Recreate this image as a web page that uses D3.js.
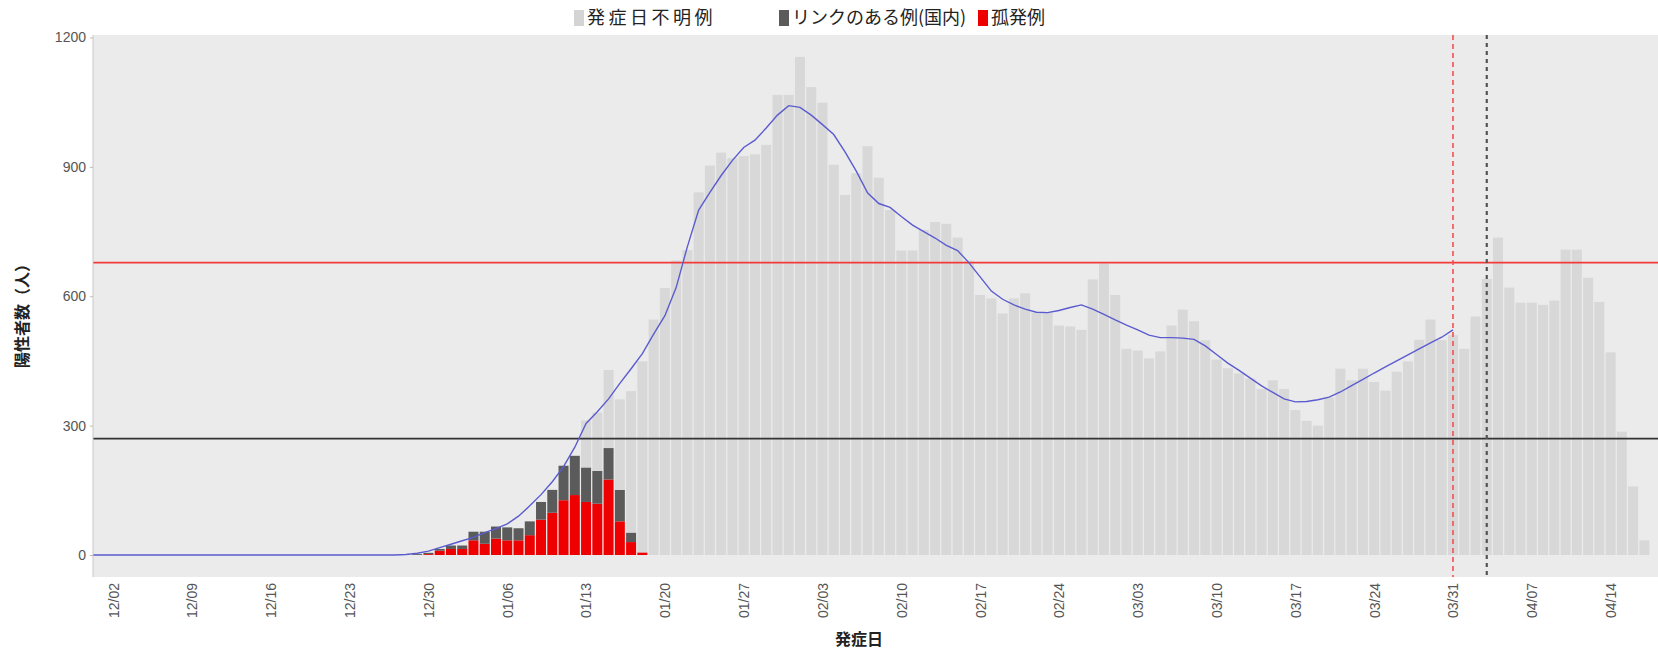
<!DOCTYPE html>
<html><head><meta charset="utf-8">
<script src="https://cdn.jsdelivr.net/npm/d3@7"></script>
<style>body{margin:0;background:#fff}svg{display:block}</style>
</head><body>
<svg id="chart" width="1658" height="649"></svg>
<script>
// ---- data (one entry per day from 2020-11-30) ----
const firstDay = "2020-11-30";
const isolated = [ // 孤発例 (red)
0,0,0,0,0,0,0,0,0,0, 0,0,0,0,0,0,0,0,0,0, 0,0,0,0,0,0,0,0,0,0,
2,10,14,14,34,26,38,34,34,46,82,98,127,139,123,119,175,78,30,6,
0,0,0,0,0,0,0,0,0,0, 0,0,0,0,0,0,0,0,0,0, 0,0,0,0,0,0,0,0,0,0,
0,0,0,0,0,0,0,0,0,0, 0,0,0,0,0,0,0,0,0,0, 0,0,0,0,0,0,0,0,0,0,
0,0,0,0,0,0,0,0,0,0, 0,0,0,0,0,0,0,0,0,0, 0,0,0,0,0,0,0,0,0];
const linked = [ // リンクのある例（国内） (dark grey)
0,0,0,0,0,0,0,0,0,0, 0,0,0,0,0,0,0,0,0,0, 0,0,0,0,0,0,0,0,0,
2,3,4,8,8,20,28,28,30,28,32,41,53,80,91,80,76,73,73,22,0,
0,0,0,0,0,0,0,0,0,0, 0,0,0,0,0,0,0,0,0,0, 0,0,0,0,0,0,0,0,0,0,
0,0,0,0,0,0,0,0,0,0, 0,0,0,0,0,0,0,0,0,0, 0,0,0,0,0,0,0,0,0,0,
0,0,0,0,0,0,0,0,0,0, 0,0,0,0,0,0,0,0,0,0, 0,0,0,0,0,0,0,0,0];
const unknown = [ // 発症日不明例 (light grey)
0,0,0,0,0,0,0,0,0,0, 0,0,0,0,0,0,0,0,0,0, 0,0,0,0,0,0,0,0,0,0,
0,0,0,0,0,0,0,0,0,0, 0,0,0,0,
109,135,181,210,328,443,546,619,683,707,
841,903,933,920,925,929,951,1067,1067,1155,
1085,1049,905,835,885,948,875,800,706,706,
754,772,768,736,683,603,595,560,595,607,
562,562,532,530,522,639,676,603,478,474,
456,472,532,569,542,498,453,433,421,409,
385,405,385,336,311,300,365,432,405,432,
401,381,425,449,499,546,498,510,478,553,
640,736,620,585,585,580,590,708,708,643,
587,470,286,159,34];
const movingAvg = [ // blue line, from 2020-11-30 to 2021-03-31
0,0,0,0,0,0,0,0,0,0, 0,0,0,0,0,0,0,0,0,0, 0,0,0,0,0,0,0,0,
1,4,9,17,25,33,41,52,61,72,
90,114,140,170,205,250,305,332,362,398,
432,467,512,555,620,715,800,841,880,915,
945,962,990,1020,1042,1038,1020,998,975,935,
890,840,815,806,785,765,750,735,718,706,
678,645,612,593,580,570,563,562,567,574,
580,570,558,545,533,522,510,504,504,503,
500,485,465,445,428,410,392,377,362,355,
356,360,366,378,393,407,422,436,450,464,
478,492,505,522];
const tickLabels = ["2020-12-02","2020-12-09","2020-12-16","2020-12-23","2020-12-30","2021-01-06","2021-01-13","2021-01-20","2021-01-27","2021-02-03","2021-02-10","2021-02-17","2021-02-24","2021-03-03","2021-03-10","2021-03-17","2021-03-24","2021-03-31","2021-04-07","2021-04-14"];
const yTicks = [0,300,600,900,1200];
const redThreshold = 678, blackThreshold = 270;
const redDashDate = "2021-03-31", greyDashDate = "2021-04-03";
const legendItems = [
  {label:"発症日不明例", color:"#d4d4d4", spacing:3.5},
  {label:"リンクのある例(国内)", color:"#5b5b5b", spacing:0},
  {label:"孤発例", color:"#ee0000", spacing:0}];

// ---- drawing ----
const parse = d3.utcParse("%Y-%m-%d");
const t0 = parse(firstDay);
const days = isolated.map((_, i) => d3.utcDay.offset(t0, i));
const P = {l:93, r:1658, t:35, b:577};
const svg = d3.select("#chart");
const font = "'Liberation Sans', Arial, 'Noto Sans CJK JP', sans-serif";
const jfont = "'Noto Sans CJK JP', 'Liberation Sans', sans-serif";

const x = d3.scaleUtc()
  .domain([parse("2020-12-02"), parse("2021-04-14")])
  .range([113.2, 1610.6]);
const y = d3.scaleLinear().domain([0, 1200]).range([555, 37.5]);

svg.append("rect").attr("x", P.l).attr("y", P.t).attr("width", P.r - P.l).attr("height", P.b - P.t).attr("fill", "#ebebeb");
svg.append("defs").append("clipPath").attr("id", "clip").append("rect")
  .attr("x", P.l).attr("y", P.t).attr("width", P.r - P.l).attr("height", P.b - P.t);
const g = svg.append("g").attr("clip-path", "url(#clip)");

const rows = days.map((d, i) => ({d, iso: isolated[i], lnk: linked[i], unk: unknown[i]}));
const stack = d3.stack().keys(["iso", "lnk", "unk"])(rows);
const colors = {iso: "#ee0000", lnk: "#5b5b5b", unk: "#d8d8d8"};
const bw = 10;
stack.forEach(layer => {
  g.append("g").selectAll("rect").data(layer.filter(p => p[1] > p[0])).join("rect")
    .attr("x", p => x(p.data.d) - bw / 2)
    .attr("width", bw)
    .attr("y", p => y(p[1]))
    .attr("height", p => y(p[0]) - y(p[1]))
    .attr("fill", colors[layer.key]);
});

// threshold lines
g.append("line").attr("x1", P.l).attr("x2", P.r).attr("y1", y(redThreshold)).attr("y2", y(redThreshold))
  .attr("stroke", "#f23a3a").attr("stroke-width", 1.6);
g.append("line").attr("x1", P.l).attr("x2", P.r).attr("y1", y(blackThreshold)).attr("y2", y(blackThreshold))
  .attr("stroke", "#333").attr("stroke-width", 1.8);

// moving average line
const avgData = movingAvg.map((v, i) => ({d: days[i], v}));
g.append("path").datum(avgData)
  .attr("fill", "none").attr("stroke", "#5b5bd0").attr("stroke-width", 1.4)
  .attr("d", d3.line().x(p => x(p.d)).y(p => y(p.v)));

// vertical dashed lines
g.append("line").attr("x1", x(parse(redDashDate))).attr("x2", x(parse(redDashDate)))
  .attr("y1", P.t).attr("y2", P.b).attr("stroke", "#f25050").attr("stroke-width", 1.6).attr("stroke-dasharray", "5,4");
g.append("line").attr("x1", x(parse(greyDashDate))).attr("x2", x(parse(greyDashDate)))
  .attr("y1", P.t).attr("y2", P.b).attr("stroke", "#555").attr("stroke-width", 2.2).attr("stroke-dasharray", "4,4");

// y axis
const ya = svg.append("g").attr("transform", `translate(${P.l},0)`)
  .call(d3.axisLeft(y).tickValues(yTicks).tickFormat(d3.format("d")).tickSize(3).tickPadding(4));
ya.select(".domain").attr("stroke", "#c8c8c8").attr("d", `M0,${P.t}V${P.b}`);
ya.selectAll(".tick line").attr("stroke", "#bbb");
ya.selectAll("text").attr("fill", "#555").style("font-family", font).style("font-size", "14px");

// x axis
const xa = svg.append("g").attr("transform", `translate(0,${P.b})`)
  .call(d3.axisBottom(x).tickValues(tickLabels.map(parse)).tickFormat(d3.utcFormat("%m/%d")).tickSize(0));
xa.select(".domain").remove();
xa.selectAll("text")
  .attr("transform", "rotate(-90)")
  .attr("x", -6).attr("y", 0).attr("dy", "0.35em")
  .attr("text-anchor", "end")
  .attr("fill", "#555").style("font-family", font).style("font-size", "14px");

// axis titles
svg.append("text").attr("transform", `translate(22,312) rotate(-90)`)
  .attr("text-anchor", "middle").attr("dy", "0.35em")
  .style("font-family", jfont).style("font-size", "16px").style("font-weight", "bold").attr("fill", "#222")
  .text("陽性者数（人）");
svg.append("text").attr("x", 859).attr("y", 645).attr("text-anchor", "middle")
  .style("font-family", jfont).style("font-size", "16px").style("font-weight", "bold").attr("fill", "#222")
  .text("発症日");

// legend
const legendX = [574, 779, 978];
legendItems.forEach((it, i) => {
  const lg = svg.append("g").attr("transform", `translate(${legendX[i]},18)`);
  lg.append("rect").attr("x", 0).attr("y", -8).attr("width", 10).attr("height", 16).attr("fill", it.color);
  lg.append("text").attr("x", 13).attr("y", 0).attr("dy", "0.36em")
    .style("font-family", jfont).style("font-size", "18px").style("letter-spacing", it.spacing + "px")
    .attr("fill", "#222").text(it.label);
});
</script>
</body></html>
